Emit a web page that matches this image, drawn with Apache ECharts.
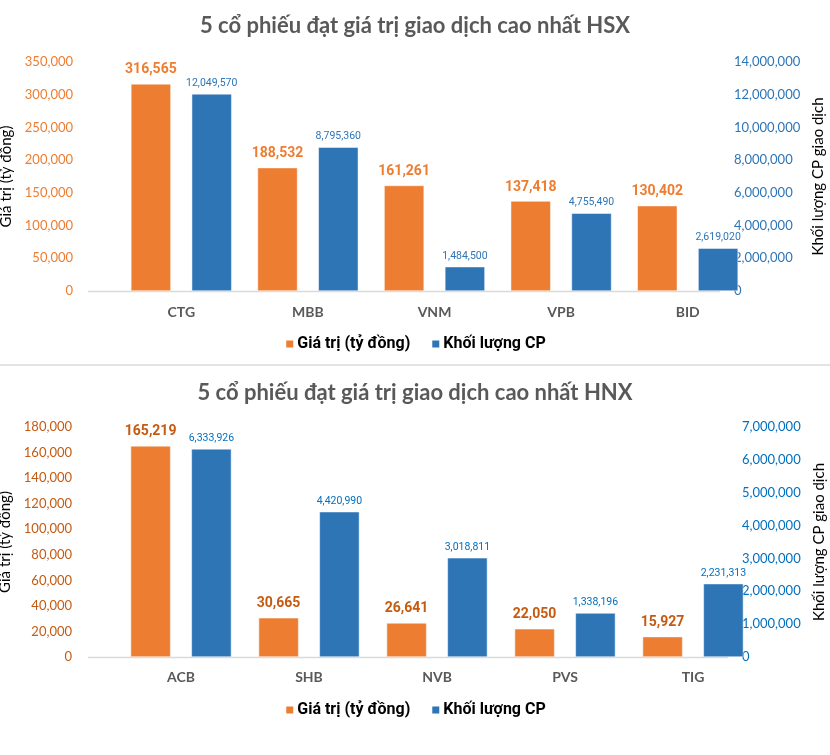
<!DOCTYPE html>
<html>
<head>
<meta charset="utf-8">
<script src="https://cdn.jsdelivr.net/npm/echarts@6/dist/echarts.min.js"></script>
<style>
html,body{margin:0;padding:0;background:#fff;}
#chart{width:830px;height:755px;}
</style>
</head>
<body>
<div id="chart"></div>
<script>
// ---- data ----
const titleHSX = '5 cổ phiếu đạt giá trị giao dịch cao nhất HSX';
const titleHNX = '5 cổ phiếu đạt giá trị giao dịch cao nhất HNX';
const seriesNames = ['Giá trị (tỷ đồng)', 'Khối lượng CP'];
const axisNames = ['Giá trị (tỷ đồng)', 'Khối lượng CP giao dịch'];

const categoriesHSX = ['CTG', 'MBB', 'VNM', 'VPB', 'BID'];
const valueHSX = [316565, 188532, 161261, 137418, 130402];
const volumeHSX = [12049570, 8795360, 1484500, 4755490, 2619020];

const categoriesHNX = ['ACB', 'SHB', 'NVB', 'PVS', 'TIG'];
const valueHNX = [165219, 30665, 26641, 22050, 15927];
const volumeHNX = [6333926, 4420990, 3018811, 1338196, 2231313];

// axis ranges: [min, max, interval]
const leftAxisHSX = [0, 350000, 50000];
const rightAxisHSX = [0, 14000000, 2000000];
const leftAxisHNX = [0, 180000, 20000];
const rightAxisHNX = [0, 7000000, 1000000];

// ---- styles ----
const ORANGE = '#ED7D31', BLUE = '#2E75B6';
const FONT = 'Lato, "Open Sans", sans-serif';
const NARROW = 'Roboto, sans-serif';
const fmt = v => Number(v).toLocaleString('en-US');

const G = [
  {left: 118, width: 633, top: 62, height: 229, outerBoundsMode: 'none', containLabel: false},
  {left: 117, width: 640, top: 427, height: 230, outerBoundsMode: 'none', containLabel: false}
];

function leftAxis(gi, range, color) {
  return {
    gridIndex: gi, type: 'value', position: 'left',
    min: range[0], max: range[1], interval: range[2],
    axisLine: {show: false}, axisTick: {show: false}, splitLine: {show: false},
    axisLabel: {margin: 45, color: color, fontSize: 13, fontFamily: FONT, formatter: fmt},
    name: axisNames[0], nameLocation: 'middle', nameRotate: 90, nameGap: 95,
    nameTextStyle: {color: '#000', fontSize: 15, fontFamily: FONT}
  };
}
function rightAxis(gi, range, color, off, gap) {
  return {
    gridIndex: gi, type: 'value', position: 'right', offset: off,
    min: range[0], max: range[1], interval: range[2],
    axisLine: {show: false}, axisTick: {show: false}, splitLine: {show: false},
    axisLabel: {margin: 8, color: color, fontSize: 13, fontFamily: FONT, formatter: fmt},
    name: axisNames[1], nameLocation: 'middle', nameRotate: 90, nameGap: gap,
    nameTextStyle: {color: '#000', fontSize: 15, fontFamily: FONT}
  };
}
function catAxis(gi, cats, margin) {
  return {
    gridIndex: gi, type: 'category', data: cats,
    axisLine: {show: false}, axisTick: {show: false},
    axisLabel: {margin: margin, fontFamily: FONT, fontWeight: 'bold', fontSize: 14, color: '#595959'}
  };
}
function valueSeries(xi, yi, data, labelColor) {
  return {
    name: seriesNames[0], type: 'bar', xAxisIndex: xi, yAxisIndex: yi, data: data,
    barWidth: 40, barGap: '52%',
    itemStyle: {color: ORANGE, borderColor: '#fff', borderWidth: 0.5},
    label: {show: true, position: 'top', distance: 7, color: labelColor, fontWeight: 'bold',
            fontSize: 14, fontFamily: NARROW, formatter: p => fmt(p.value)}
  };
}
function volumeSeries(xi, yi, data, labelColor) {
  return {
    name: seriesNames[1], type: 'bar', xAxisIndex: xi, yAxisIndex: yi, data: data,
    barWidth: 40, barGap: '52%',
    itemStyle: {color: BLUE, borderColor: '#fff', borderWidth: 0.5},
    label: {show: true, position: 'top', distance: 5, color: labelColor,
            fontSize: 10.5, fontFamily: NARROW, formatter: p => fmt(p.value)}
  };
}
function legend(top) {
  return {
    data: seriesNames, top: top, left: 'center', padding: 0, selectedMode: false,
    icon: 'rect', itemWidth: 9, itemHeight: 9, itemGap: 20,
    textStyle: {fontFamily: 'Roboto, sans-serif', fontWeight: 'bold', fontSize: 16, color: '#000', padding: [0, 0, 0, -2]}
  };
}
const titleStyle = {fontFamily: FONT, fontWeight: 'bold', fontSize: 22, color: '#595959'};

const option = {
  animation: false,
  backgroundColor: '#fff',
  title: [
    {text: titleHSX, left: 'center', top: 15, padding: 0, textStyle: titleStyle},
    {text: titleHNX, left: 'center', top: 382, padding: 0, textStyle: titleStyle}
  ],
  legend: [legend(336), legend(702)],
  grid: G,
  xAxis: [catAxis(0, categoriesHSX, 14), catAxis(1, categoriesHNX, 13)],
  yAxis: [
    leftAxis(0, leftAxisHSX, ORANGE),
    rightAxis(0, rightAxisHSX, '#2E75B6', -25, 82),
    leftAxis(1, leftAxisHNX, '#C55A11'),
    rightAxis(1, rightAxisHNX, '#0070C0', -23, 78)
  ],
  series: [
    valueSeries(0, 0, valueHSX, ORANGE),
    volumeSeries(0, 1, volumeHSX, '#2E75B6'),
    valueSeries(1, 2, valueHNX, '#C55A11'),
    volumeSeries(1, 3, volumeHNX, '#0070C0')
  ],
  graphic: [
    {type: 'line', shape: {x1: 88, y1: 291.5, x2: 720, y2: 291.5}, style: {stroke: '#D9D9D9', lineWidth: 1.5}, z: 0},
    {type: 'line', shape: {x1: 88, y1: 657.5, x2: 728, y2: 657.5}, style: {stroke: '#D9D9D9', lineWidth: 1.5}, z: 0},
    {type: 'line', shape: {x1: 0, y1: 365, x2: 830, y2: 365}, style: {stroke: '#E3E3E3', lineWidth: 2}, z: 0}
  ]
};

const chart = echarts.init(document.getElementById('chart'), null, {renderer: 'canvas'});
chart.setOption(option);
</script>
</body>
</html>
